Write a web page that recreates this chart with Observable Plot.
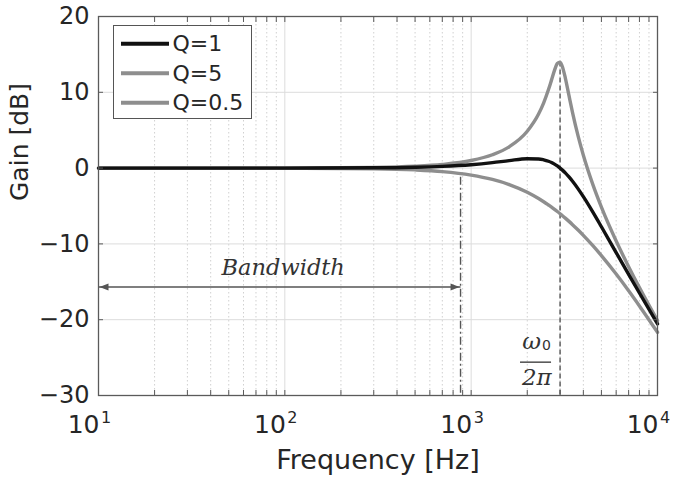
<!DOCTYPE html>
<html>
<head>
<meta charset="utf-8">
<script src="https://cdn.jsdelivr.net/npm/d3@7"></script>
<script src="https://cdn.jsdelivr.net/npm/@observablehq/plot@0.6"></script>
<style>
  body { margin: 0; background: #fff; }
  #wrap { position: relative; width: 685px; height: 486px; }
  #legend { position: absolute; left: 113px; top: 25px; width: 137px; height: 92px;
            border: 1.4px solid #555; background: #fff; }
</style>
</head>
<body>
<div id="wrap"><div id="legend"></div></div>
<script>
// ---- data ----
const freqHz = [10, 100, 300, 500, 700, 1000, 1300, 1600, 2000, 2300, 2450, 2600, 2700, 2800, 2900,
                3000, 3100, 3200, 3350, 3500, 3750, 4000, 4500, 5000, 6000, 7000, 8000, 10000];
const gainQ1 = [0, 0.00, 0.04, 0.12, 0.23, 0.45, 0.72, 0.99, 1.23, 1.21, 1.09, 0.90, 0.73, 0.52, 0.28,
                0.00, -0.30, -0.63, -1.17, -1.74, -2.74, -3.77, -5.81, -7.74, -11.14, -14.01, -16.48, -20.54];
const gainQ5 = [0, 0.01, 0.09, 0.24, 0.48, 1.00, 1.76, 2.81, 4.86, 7.13, 8.61, 10.36, 11.64, 12.89, 13.80,
                13.98, 13.25, 11.91, 9.55, 7.33, 4.21, 1.70, -2.18, -5.15, -9.62, -13.00, -15.76, -20.12];
const gainQ05 = [0, -0.01, -0.09, -0.24, -0.46, -0.92, -1.50, -2.17, -3.19, -4.02, -4.44, -4.87, -5.15, -5.44, -5.73,
                -6.02, -6.31, -6.60, -7.03, -7.46, -8.17, -8.87, -10.24, -11.55, -13.98, -16.18, -18.18, -21.66];

const seriesNames = ["Q=1", "Q=5", "Q=0.5"];
const seriesColors = ["#111111", "#8e8e8e", "#8e8e8e"];
const seriesGains = [gainQ1, gainQ5, gainQ05];

const yTicks = [-30, -20, -10, 0, 10, 20];
const xMajor = [10, 100, 1000, 10000];
const xExponents = ["1", "2", "3", "4"];
const xMinor = [20, 30, 40, 50, 60, 70, 80, 90, 200, 300, 400, 500, 600, 700, 800, 900,
                2000, 3000, 4000, 5000, 6000, 7000, 8000, 9000];

const resonanceHz = [3000];
const resonancePeakDb = 14;
const bandwidthHz = [877];
const bandwidthTopDb = -1.2;
const bandwidthArrowDb = -15.7;
const bandwidthLabel = ["Bandwidth"];
const bandwidthLabelHz = 98;
const bandwidthLabelDb = -13.1;
const fractionBarHz = [1840, 2700];
const fractionBarDb = -25.6;

const xLabel = "Frequency [Hz]";
const yLabel = "Gain [dB]";

// ---- build table ----
const rows = [];
[2, 1, 0].forEach(s => freqHz.forEach((f, i) => rows.push({f, g: seriesGains[s][i], s: seriesNames[s], c: seriesColors[s]})));

const axisColor = "#5a5a5a";
const textColor = "#262626";
const annColor = "#555";

function filledArrow(color) {
  const ns = "http://www.w3.org/2000/svg";
  const m = document.createElementNS(ns, "marker");
  m.setAttribute("viewBox", "-10 -5 12 10");
  m.setAttribute("markerWidth", 12);
  m.setAttribute("markerHeight", 10);
  m.setAttribute("markerUnits", "userSpaceOnUse");
  m.setAttribute("orient", "auto-start-reverse");
  m.setAttribute("refX", 1);
  m.setAttribute("refY", 0);
  const p = document.createElementNS(ns, "path");
  p.setAttribute("d", "M-9,-3.5L0,0L-9,3.5Z");
  p.setAttribute("fill", color);
  p.setAttribute("stroke", "none");
  m.appendChild(p);
  return m;
}

const chart = Plot.plot({
  width: 685,
  height: 486,
  marginLeft: 98,
  marginRight: 28,
  marginTop: 16,
  marginBottom: 91,
  style: {fontFamily: "DejaVu Sans", fontSize: "24px", color: textColor, background: "#fff", overflow: "visible"},
  x: {type: "log", domain: [10, 10000]},
  y: {domain: [-30, 20]},
  marks: [
    // grid
    Plot.ruleX(xMinor, {stroke: "#d0d0d0", strokeWidth: 1, strokeDasharray: "1.5,2.5"}),
    Plot.ruleX(xMajor, {stroke: "#dcdcdc", strokeWidth: 1}),
    Plot.ruleY(yTicks, {stroke: "#dcdcdc", strokeWidth: 1}),
    // annotations
    Plot.ruleX(bandwidthHz, {y1: bandwidthTopDb, y2: -30, stroke: annColor, strokeWidth: 1.4, strokeDasharray: "8,3,2,3"}),
    Plot.ruleX(resonanceHz, {y1: resonancePeakDb, y2: -30, stroke: annColor, strokeWidth: 1.4, strokeDasharray: "5,3"}),
    Plot.link(bandwidthHz, {x1: 10, x2: d => d, y1: bandwidthArrowDb, y2: bandwidthArrowDb,
      stroke: annColor, strokeWidth: 1.5, markerStart: filledArrow, markerEnd: filledArrow}),
    Plot.text(bandwidthLabel, {x: bandwidthLabelHz, y: bandwidthLabelDb, text: d => d,
      fontFamily: "DejaVu Serif", fontStyle: "italic", fontSize: 22.5, fill: "#333"}),
    Plot.ruleY([fractionBarDb], {x1: fractionBarHz[0], x2: fractionBarHz[1], stroke: "#333", strokeWidth: 1.3}),
    Plot.text(resonanceHz, {x: d => d, y: fractionBarDb, text: () => "ω", dx: -28.5, dy: -20.4,
      fontFamily: "DejaVu Serif", fontStyle: "italic", fontSize: 23, fill: "#333"}),
    Plot.text(resonanceHz, {x: d => d, y: fractionBarDb, text: () => "0", dx: -13.5, dy: -16.2,
      fontFamily: "DejaVu Sans", fontSize: 14, fill: "#333"}),
    Plot.text(resonanceHz, {x: d => d, y: fractionBarDb, text: () => "2π", dx: -23.3, dy: 15.9,
      fontFamily: "DejaVu Serif", fontStyle: "italic", fontSize: 23, fill: "#333"}),
    // curves
    Plot.line(rows, {x: "f", y: "g", z: "s", stroke: "c", strokeWidth: 3.4, curve: "monotone-x"}),
    // frame and axes
    Plot.frame({stroke: axisColor, strokeWidth: 1.3}),
    Plot.axisY({anchor: "left", ticks: yTicks, tickSize: -5, tickPadding: 14, label: null,
      stroke: axisColor, fill: textColor, fontSize: 24}),
    Plot.axisY({anchor: "right", ticks: yTicks, tickSize: -5, tickFormat: () => "", label: null, stroke: axisColor}),
    Plot.axisX({anchor: "bottom", ticks: xMajor.concat(xMinor), tickSize: -5, tickFormat: () => "", label: null, stroke: axisColor}),
    Plot.axisX({anchor: "top", ticks: xMajor.concat(xMinor), tickSize: -5, tickFormat: () => "", label: null, stroke: axisColor}),
    Plot.text(xMajor, {x: d => d, frameAnchor: "bottom", text: () => "10", textAnchor: "end", dx: 1, dy: 37.5,
      fontSize: 25, fill: textColor}),
    Plot.text(xMajor, {x: d => d, frameAnchor: "bottom", text: (d, i) => xExponents[i], textAnchor: "start", dx: 2.5, dy: 27.5,
      fontSize: 16, fill: textColor}),
    // axis labels
    Plot.text([xLabel], {frameAnchor: "bottom", text: d => d, dy: 73, fontSize: 27, fill: textColor}),
    Plot.text([yLabel], {frameAnchor: "left", text: d => d, rotate: -90, dx: -78.7, dy: -5, fontSize: 25, fill: textColor})
  ]
});
document.getElementById("wrap").prepend(chart);

// ---- legend ----
const leg = d3.select("#legend").append("svg").attr("width", 137).attr("height", 92)
  .style("display", "block");
const legRows = leg.selectAll("g").data(seriesNames).join("g")
  .attr("transform", (d, i) => `translate(0,${17.7 + i * 29.5})`);
legRows.append("line").attr("x1", 7).attr("x2", 55).attr("y1", 0).attr("y2", 0)
  .attr("stroke", (d, i) => seriesColors[i]).attr("stroke-width", 4);
legRows.append("text").attr("x", 58.5).attr("y", 0).attr("dy", "0.35em")
  .attr("font-family", "DejaVu Sans").attr("font-size", 22).attr("fill", textColor).text(d => d);
</script>
</body>
</html>
